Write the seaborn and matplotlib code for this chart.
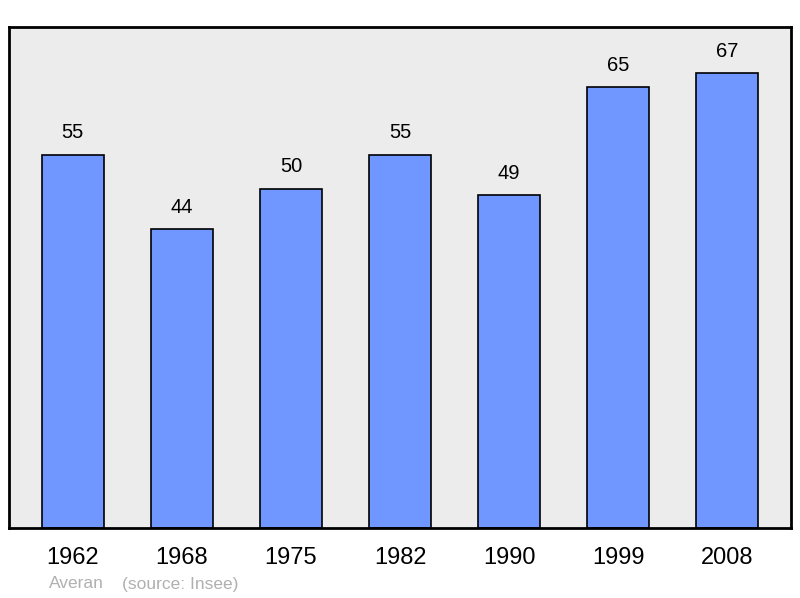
import matplotlib
matplotlib.use("Agg")
import matplotlib.pyplot as plt
import seaborn as sns
import pandas as pd

years = ["1962", "1968", "1975", "1982", "1990", "1999", "2008"]
population = [55, 44, 50, 55, 49, 65, 67]
commune = "Averan"
source = "(source: Insee)"

sns.set_style("white")
plt.rcParams["font.family"] = ["Liberation Sans", "DejaVu Sans"]

df = pd.DataFrame({"year": years, "pop": population})

fig = plt.figure(figsize=(8, 5.98), dpi=100)
ax = fig.add_axes([9/800, 1 - 528/598, 782/800, 501/598])
ax.set_facecolor("#ececec")

sns.barplot(data=df, x="year", y="pop", color="#7096ff", saturation=1,
            width=0.567, edgecolor="black", linewidth=1.2, ax=ax, zorder=2)

for i, v in enumerate(population):
    ax.text(i, v + 1.8, str(v), ha="center", va="bottom", fontsize=14.5, color="black")

ax.set_xlim(-0.585, 6.585)
ax.set_ylim(0, 73.8)
ax.set_yticks([])
ax.set_xlabel("")
ax.set_ylabel("")
ax.tick_params(axis="x", length=0, pad=14, labelsize=17, colors="black")
for s in ax.spines.values():
    s.set_visible(True)
    s.set_color("black")
    s.set_linewidth(2)

fig.text(49/800, 1 - 584/598, commune, fontsize=12.5, color="#b0b0b0", va="center", ha="left")
fig.text(122/800, 1 - 584/598, source, fontsize=12.5, color="#b0b0b0", va="center", ha="left")

fig.savefig("out.png", dpi=100, facecolor="white")
